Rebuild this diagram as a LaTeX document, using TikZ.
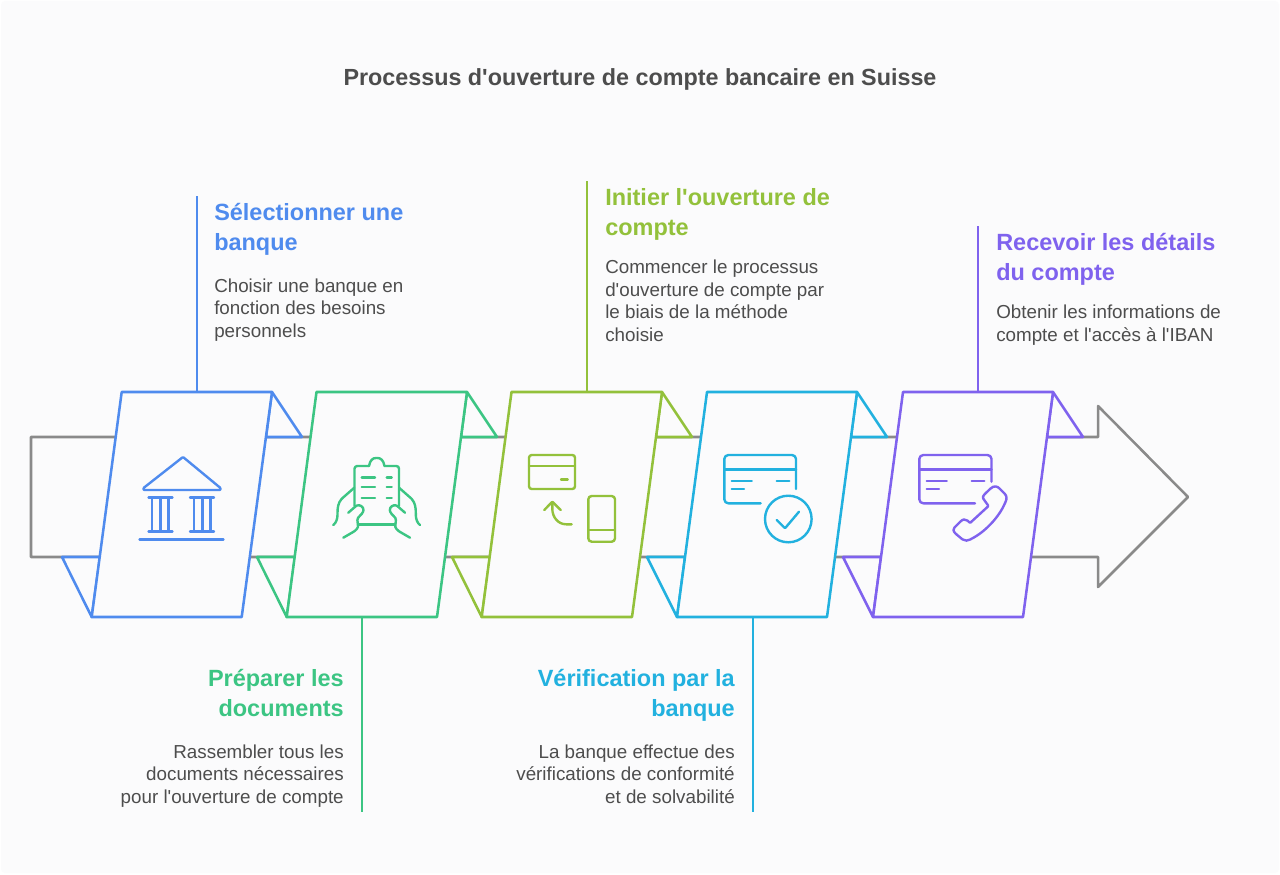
\documentclass[tikz,border=0pt]{standalone}
\usepackage{fontspec}
\setmainfont{Liberation Sans}[Ligatures=TeXOff]
\definecolor{pagefill}{HTML}{FBFBFC}
\definecolor{arrowgray}{HTML}{8A8A8A}
\definecolor{textgray}{HTML}{4D4D4D}
\definecolor{bankblue}{HTML}{4F8BEE}
\definecolor{docgreen}{HTML}{3CC583}
\definecolor{openlime}{HTML}{93C13B}
\definecolor{checkcyan}{HTML}{22B1DF}
\definecolor{detailviolet}{HTML}{7F62EE}
\tikzset{
	panelstyle/.style={draw=#1,fill=pagefill,line width=1.9pt,line join=round},
	stemstyle/.style={draw=#1,line width=2.1pt},
	iconstyle/.style={draw=#1,line width=1.8pt,line cap=round,line join=round,rounded corners=0.6pt},
	titlestyle/.style={inner sep=0,text=textgray,font=\fontsize{17.5}{20}\selectfont\bfseries},
	headstyle/.style={inner sep=0,text=#1,font=\fontsize{17.6}{22.5}\selectfont\bfseries},
	leftstyle/.style={anchor=base west,align=left},
	rightstyle/.style={anchor=base east,align=right},
	bodystyle/.style={inner sep=0,text=textgray,font=\fontsize{14.1}{16.9}\selectfont}
}
\begin{document}
\begin{tikzpicture}[x=0.75pt,y=-0.75pt]
	\useasboundingbox (0,0) rectangle (1280,874);
	\fill[white] (0,0) rectangle (1280,874);
	\fill[pagefill,rounded corners=3pt] (1,1) rectangle (1279,873);
	\node[titlestyle] (title) at (640,79) {Processus d'ouverture de compte bancaire en Suisse};
	% long gray arrow behind the panels
	\draw[arrowgray,line width=1.9pt,line join=round] (31,437)--(1098,437)--(1098,406)--(1188,497)--(1098,587)--(1098,557)--(31,557)--cycle;
	% first panel
	\coordinate (bankstem) at (197,392);
	\coordinate (bankend) at (197,196);
	\draw[stemstyle=bankblue] (bankstem)--(bankend);
	\draw[panelstyle=bankblue] (272,392)--(302,437)--(266,437)--cycle;
	\draw[panelstyle=bankblue] (91.7,617)--(62,557)--(100,557)--cycle;
	\draw[panelstyle=bankblue] (121.7,392)--(272,392)--(241.7,617)--(91.7,617)--cycle;
	% second panel
	\coordinate (docstem) at (362,617);
	\coordinate (docend) at (362,812);
	\draw[stemstyle=docgreen] (docstem)--(docend);
	\draw[panelstyle=docgreen] (467,392)--(497,437)--(461,437)--cycle;
	\draw[panelstyle=docgreen] (286.7,617)--(257,557)--(295,557)--cycle;
	\draw[panelstyle=docgreen] (316.5,392)--(467,392)--(437,617)--(286.7,617)--cycle;
	% third panel
	\coordinate (openstem) at (587,392);
	\coordinate (openend) at (587,181);
	\draw[stemstyle=openlime] (openstem)--(openend);
	\draw[panelstyle=openlime] (662,392)--(692,437)--(656,437)--cycle;
	\draw[panelstyle=openlime] (481.7,617)--(452,557)--(490,557)--cycle;
	\draw[panelstyle=openlime] (511.5,392)--(662,392)--(632,617)--(481.7,617)--cycle;
	% fourth panel
	\coordinate (checkstem) at (753,617);
	\coordinate (checkend) at (753,812);
	\draw[stemstyle=checkcyan] (checkstem)--(checkend);
	\draw[panelstyle=checkcyan] (857,392)--(887,437)--(851,437)--cycle;
	\draw[panelstyle=checkcyan] (677,617)--(647,557)--(685,557)--cycle;
	\draw[panelstyle=checkcyan] (707,392)--(857,392)--(827,617)--(677,617)--cycle;
	% fifth panel
	\coordinate (detailstem) at (978,392);
	\coordinate (detailend) at (978,226);
	\draw[stemstyle=detailviolet] (detailstem)--(detailend);
	\draw[panelstyle=detailviolet] (1053,392)--(1083,437)--(1047,437)--cycle;
	\draw[panelstyle=detailviolet] (873,617)--(843,557)--(881,557)--cycle;
	\draw[panelstyle=detailviolet] (903,392)--(1053,392)--(1023,617)--(873,617)--cycle;
	% bank icon
	\draw[iconstyle=bankblue] (143.5,490)--(143.5,488)--(183,457)--(220.5,488)--(220.5,490)--cycle;
	\draw[iconstyle=bankblue] (148.5,497.5)--(172.5,497.5) (148.5,531.5)--(172.5,531.5) (152,497.5)--(152,531.5) (160.5,497.5)--(160.5,531.5) (168.5,497.5)--(168.5,531.5);
	\draw[iconstyle=bankblue] (190,497.5)--(214,497.5) (190,531.5)--(214,531.5) (194,497.5)--(194,531.5) (202.5,497.5)--(202.5,531.5) (210.5,497.5)--(210.5,531.5);
	\draw[iconstyle=bankblue] (139.5,539.5)--(223.5,539.5);
	% clipboard icon
	\draw[iconstyle=docgreen,rounded corners=2pt] (354.5,506)--(354.5,466)--(369,466);
	\draw[iconstyle=docgreen,rounded corners=2pt] (399,506)--(399,466)--(384.5,466);
	\draw[iconstyle=docgreen] (369,466) .. controls (370,460) and (373,458) .. (376.7,458) .. controls (380.5,458) and (383.5,460) .. (384.5,466);
	\draw[iconstyle=docgreen] (358,524.3)--(395,524.3);
	\draw[iconstyle=docgreen] (361.7,477.5)--(375,477.5) (361.7,486.7)--(375,486.7) (361.7,497.7)--(375,497.7);
	\draw[iconstyle=docgreen] (386.7,477.5)--(391.7,477.5) (386.7,486.7)--(391.7,486.7) (386.7,497.7)--(391.7,497.7);
	\draw[iconstyle=docgreen] (354.3,487.7)--(342,498.5) .. controls (338,503) and (337.5,508) .. (337.5,514) .. controls (337.5,519) and (336,523) .. (333.3,525);
	\draw[iconstyle=docgreen] (348.3,512.7)--(356,506) .. controls (359.5,504) and (364,507) .. (363.3,511) .. controls (362,515) and (357,517) .. (357.5,521)--(358,526) .. controls (358,528) and (356,530) .. (354,531.5)--(343.3,537.7);
	\draw[iconstyle=docgreen] (399,487.7)--(411.3,498.5) .. controls (415.3,503) and (415.8,508) .. (415.8,514) .. controls (415.8,519) and (417.3,523) .. (420,525);
	\draw[iconstyle=docgreen] (405,512.7)--(397.3,506) .. controls (393.8,504) and (389.3,507) .. (390,511) .. controls (391.3,515) and (396.3,517) .. (395.8,521)--(395.3,526) .. controls (395.3,528) and (397.3,530) .. (399.3,531.5)--(410,537.7);
	% card and phone icon
	\draw[iconstyle=openlime,rounded corners=2pt] (529,455) rectangle (575,489);
	\draw[iconstyle=openlime] (529,465.7)--(575,465.7) (561,479.3)--(567.7,479.3);
	\draw[iconstyle=openlime,rounded corners=2.5pt] (588.3,496) rectangle (615,541.7);
	\draw[iconstyle=openlime] (588.3,530)--(615,530);
	\draw[iconstyle=openlime] (571.7,524.3)--(567,524.3) .. controls (558,524.3) and (552.3,517) .. (552.3,508)--(552.3,502);
	\draw[iconstyle=openlime] (544.3,510)--(552.3,501.7)--(560.7,510);
	% card with check icon
	\draw[iconstyle=checkcyan,rounded corners=3pt] (796,489)--(796,455)--(724.3,455)--(724.3,503.3)--(760.7,503.3);
	\draw[iconstyle=checkcyan] (724.3,469.3)--(796,469.3);
	\draw[iconstyle=checkcyan] (731.7,481)--(751.7,481) (731.7,489)--(744,489) (776.7,481)--(789.3,481);
	\draw[iconstyle=checkcyan] (788.3,519) circle (23.3);
	\draw[iconstyle=checkcyan] (776.7,520)--(785,528.3)--(799,511.7);
	% card with telephone icon
	\draw[iconstyle=detailviolet,rounded corners=3pt] (991.5,481.7)--(991.5,455)--(919.3,455)--(919.3,503.3)--(975,503.3);
	\draw[iconstyle=detailviolet] (919.3,469.3)--(991.5,469.3);
	\draw[iconstyle=detailviolet] (926.7,481)--(946.7,481) (926.7,489)--(939,489) (971.7,481)--(984.3,481);
	\draw[iconstyle=detailviolet] (983.5,499) .. controls (982,496) and (985,494) .. (990,489) .. controls (994,485.5) and (997,486) .. (1000,489)--(1004,493) .. controls (1007,496) and (1007,499) .. (1005,503) .. controls (999,517) and (985,532) .. (971,539) .. controls (968,541) and (965,541) .. (962,539)--(956,534) .. controls (953,531) and (953,529) .. (955,527)--(960,522) .. controls (963,519) and (965,519) .. (968,521)--(970,523)--(988.5,506)--cycle;
	% labels
	\node[headstyle=bankblue,leftstyle] (bankhead) at (214,250) {Sélectionner une\\banque};
	\node[bodystyle,leftstyle] (banktext) at (214,337.5) {Choisir une banque en\\fonction des besoins\\personnels};
	\node[headstyle=docgreen,rightstyle] (dochead) at (344,716) {Préparer les\\documents};
	\node[bodystyle,rightstyle] (doctext) at (344,803.5) {Rassembler tous les\\documents nécessaires\\pour l'ouverture de compte};
	\node[headstyle=openlime,leftstyle] (openhead) at (605,235) {Initier l'ouverture de\\compte};
	\node[bodystyle,leftstyle] (opentext) at (605,341.5) {Commencer le processus\\d'ouverture de compte par\\le biais de la méthode\\choisie};
	\node[headstyle=checkcyan,rightstyle] (checkhead) at (735,716) {Vérification par la\\banque};
	\node[bodystyle,rightstyle] (checktext) at (735,803.5) {La banque effectue des\\vérifications de conformité\\et de solvabilité};
	\node[headstyle=detailviolet,leftstyle] (detailhead) at (996,280) {Recevoir les détails\\du compte};
	\node[bodystyle,leftstyle] (detailtext) at (996,341.5) {Obtenir les informations de\\compte et l'accès à l'IBAN};
\end{tikzpicture}
\end{document}
